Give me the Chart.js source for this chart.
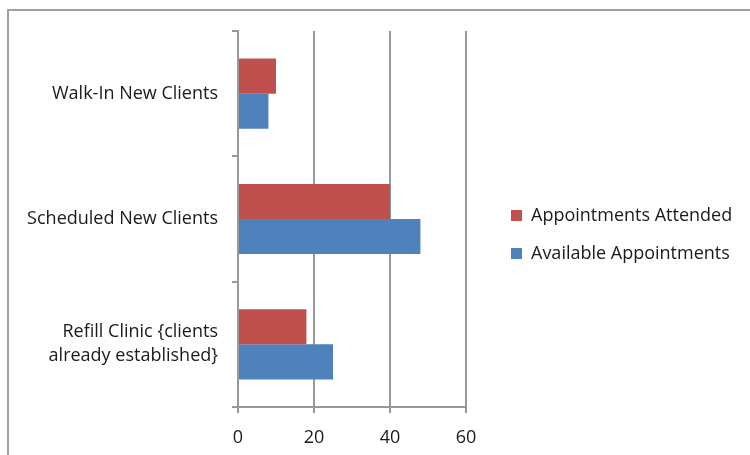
<!DOCTYPE html>
<html>
<head>
<meta charset="utf-8">
<script src="https://cdn.jsdelivr.net/npm/chart.js@4"></script>
<style>
  body { margin: 0; background: #fff; overflow: hidden; }
  #wrap { position: relative; width: 750px; height: 455px; }
  #frame { position: absolute; left: 7px; top: 9px; width: 800px; height: 500px;
           border-left: 2px solid #a0a0a0; border-top: 2px solid #a0a0a0; }
  canvas { position: absolute; left: 0; top: 0; }
</style>
</head>
<body>
<div id="wrap">
  <div id="frame"></div>
  <canvas id="chart" width="750" height="455"></canvas>
</div>
<script>
const categories = [
  'Walk-In New Clients',
  'Scheduled New Clients',
  ['Refill Clinic {clients', 'already established}'],
];
const attended = [10, 40, 18];
const available = [8, 48, 25];
const xMin = 0;
const xMax = 60;
const xStep = 20;

const axisGray = '#999999';
const textColor = '#1a1a1a';

Chart.defaults.font.family = '"Open Sans", Lato, sans-serif';
Chart.defaults.color = textColor;

// legend gets a fixed width so the plot ends at x=466, then its items are nudged into place
const legendPlace = {
  id: 'legendPlace',
  beforeLayout(chart) {
    const lg = chart.legend;
    if (lg && !lg._fixedWidth) {
      const update = lg.update;
      lg.update = function (...args) {
        update.apply(this, args);
        this.width = 284;
      };
      lg._fixedWidth = true;
    }
  },
  afterLayout(chart) {
    const lg = chart.legend;
    lg.left = 491;
    lg.right = 750;
    lg.width = 259;
    lg.top = 31;
    lg.bottom = 438;
    lg.height = 407;
  },
};

new Chart(document.getElementById('chart'), {
  type: 'bar',
  data: {
    labels: categories,
    datasets: [
      {
        label: 'Appointments Attended',
        data: attended,
        backgroundColor: '#c0504d',
        categoryPercentage: 0.56,
        barPercentage: 1.0,
      },
      {
        label: 'Available Appointments',
        data: available,
        backgroundColor: '#4f81bd',
        categoryPercentage: 0.56,
        barPercentage: 1.0,
      },
    ],
  },
  options: {
    indexAxis: 'y',
    responsive: false,
    animation: false,
    layout: { padding: { top: 31, left: 0, right: 0, bottom: 0 } },
    plugins: {
      tooltip: { enabled: false },
      legend: {
        position: 'right',
        align: 'center',
        labels: {
          boxWidth: 11,
          boxHeight: 11,
          padding: 20,
          font: { size: 18 },
          color: textColor,
        },
      },
    },
    scales: {
      x: {
        min: xMin,
        max: xMax,
        ticks: { stepSize: xStep, padding: 14, font: { size: 18 }, color: textColor },
        grid: { color: axisGray, lineWidth: 2, tickLength: 6 },
        border: { color: axisGray, width: 2 },
        afterFit(scale) { scale.height = 48; },
      },
      y: {
        ticks: { padding: 14, font: { size: 18, lineHeight: 1.33 }, color: textColor },
        grid: { color: axisGray, lineWidth: 2, tickLength: 6, drawOnChartArea: false, offset: true },
        border: { color: axisGray, width: 2 },
        afterFit(scale) {
          scale.width = 238;
          scale.paddingTop = 0;
          scale.paddingBottom = 0;
        },
      },
    },
  },
  plugins: [legendPlace],
});
</script>
</body>
</html>
